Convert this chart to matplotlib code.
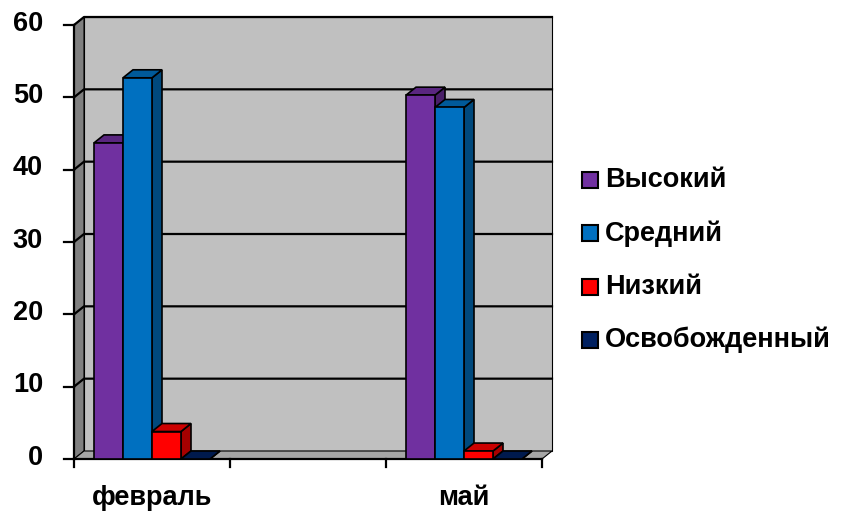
import matplotlib.pyplot as plt
from matplotlib.patches import Polygon, Rectangle
from matplotlib.colors import to_rgb

plt.rcParams['font.family'] = ['Liberation Sans', 'DejaVu Sans']
plt.rcParams['font.weight'] = 'bold'

categories = ['февраль', '', 'май']
series = ['Высокий', 'Средний', 'Низкий', 'Освобожденный']
values = {
    'Высокий':       [43.7, None, 50.3],
    'Средний':       [52.7, None, 48.6],
    'Низкий':        [3.8, None, 1.1],
    'Освобожденный': [0, None, 0],
}
colors = ['#7030A0', '#0070C0', '#FF0000', '#002060']
FS = 19.5

W, H = 842, 513
fig = plt.figure(figsize=(W / 100, H / 100), dpi=100)
# front plane of the "3d" box in pixels: x 74..542, y 25..459
ax = fig.add_axes([74 / W, (H - 459) / H, 468 / W, 434 / H])
ax.set_xlim(0, 3)
ax.set_ylim(0, 60)
ax.axis('off')

DX, DY = 10, 8  # depth offset in pixels
ddx = 3 * DX / 468
ddy = 60 * DY / 434

def darker(c, f):
    r, g, b = to_rgb(c)
    return (r * f, g * f, b * f)

def poly(pts, fc, z, lw=1.2):
    ax.add_patch(Polygon(pts, closed=True, fc=fc, ec='black', lw=lw,
                         zorder=z, clip_on=False, joinstyle='miter'))

# back wall, left wall, floor
poly([(ddx, ddy), (3 + ddx, ddy), (3 + ddx, 60 + ddy), (ddx, 60 + ddy)], '#c0c0c0', 1, lw=0.8)
poly([(0, 0), (ddx, ddy), (ddx, 60 + ddy), (0, 60)], '#808080', 1, lw=0.8)
poly([(0, 0), (3, 0), (3 + ddx, ddy), (ddx, ddy)], '#a6a6a6', 1, lw=0.8)

# gridlines on walls
for y in range(10, 61, 10):
    ax.plot([0, ddx, 3 + ddx], [y, y + ddy, y + ddy], color='black', lw=1.6,
            zorder=2, clip_on=False)

# axis lines and ticks
ax.plot([0, 0], [0, 60], color='black', lw=1.6, zorder=2, clip_on=False)
ax.plot([0, 3], [0, 0], color='black', lw=1.6, zorder=2, clip_on=False)
tx = 10 * 3 / 468
ty = 8 * 60 / 434
for y in range(0, 61, 10):
    ax.plot([-tx, 0], [y, y], color='black', lw=1.6, clip_on=False)
    ax.text(-31 * 3 / 468, y + 0.2, str(y), ha='right', va='center',
            fontsize=FS, fontweight='bold')
for x in range(4):
    ax.plot([x, x], [0, -ty], color='black', lw=1.6, clip_on=False)
for i, c in enumerate(categories):
    if c:
        ax.text(i + 0.5, -46 * 60 / 434, c, ha='center', va='baseline',
                fontsize=FS, fontweight='bold')

# bars
bw = 29 * 3 / 468
for ci in range(len(categories)):
    start = ci + 0.5 - 2 * bw
    for si, name in enumerate(series):
        v = values[name][ci]
        if v is None:
            continue
        x0 = start + si * bw
        col = colors[si]
        z = 3 + si
        poly([(x0 + bw, 0), (x0 + bw + ddx, ddy), (x0 + bw + ddx, v + ddy), (x0 + bw, v)],
             darker(col, 0.65), z)
        poly([(x0, v), (x0 + bw, v), (x0 + bw + ddx, v + ddy), (x0 + ddx, v + ddy)],
             darker(col, 0.8), z)
        if v > 0:
            poly([(x0, 0), (x0 + bw, 0), (x0 + bw, v), (x0, v)], col, z)

# legend
for si, name in enumerate(series):
    yc = 180 + si * 53.3
    fig.patches.append(Rectangle((582 / W, (H - yc - 8) / H), 16 / W, 16 / H,
                                 fc=colors[si], ec='black', lw=1.5,
                                 transform=fig.transFigure))
    fig.text(605 / W, (H - yc) / H, name, ha='left', va='center',
             fontsize=FS, fontweight='bold')

fig.savefig('out.png', dpi=100)
